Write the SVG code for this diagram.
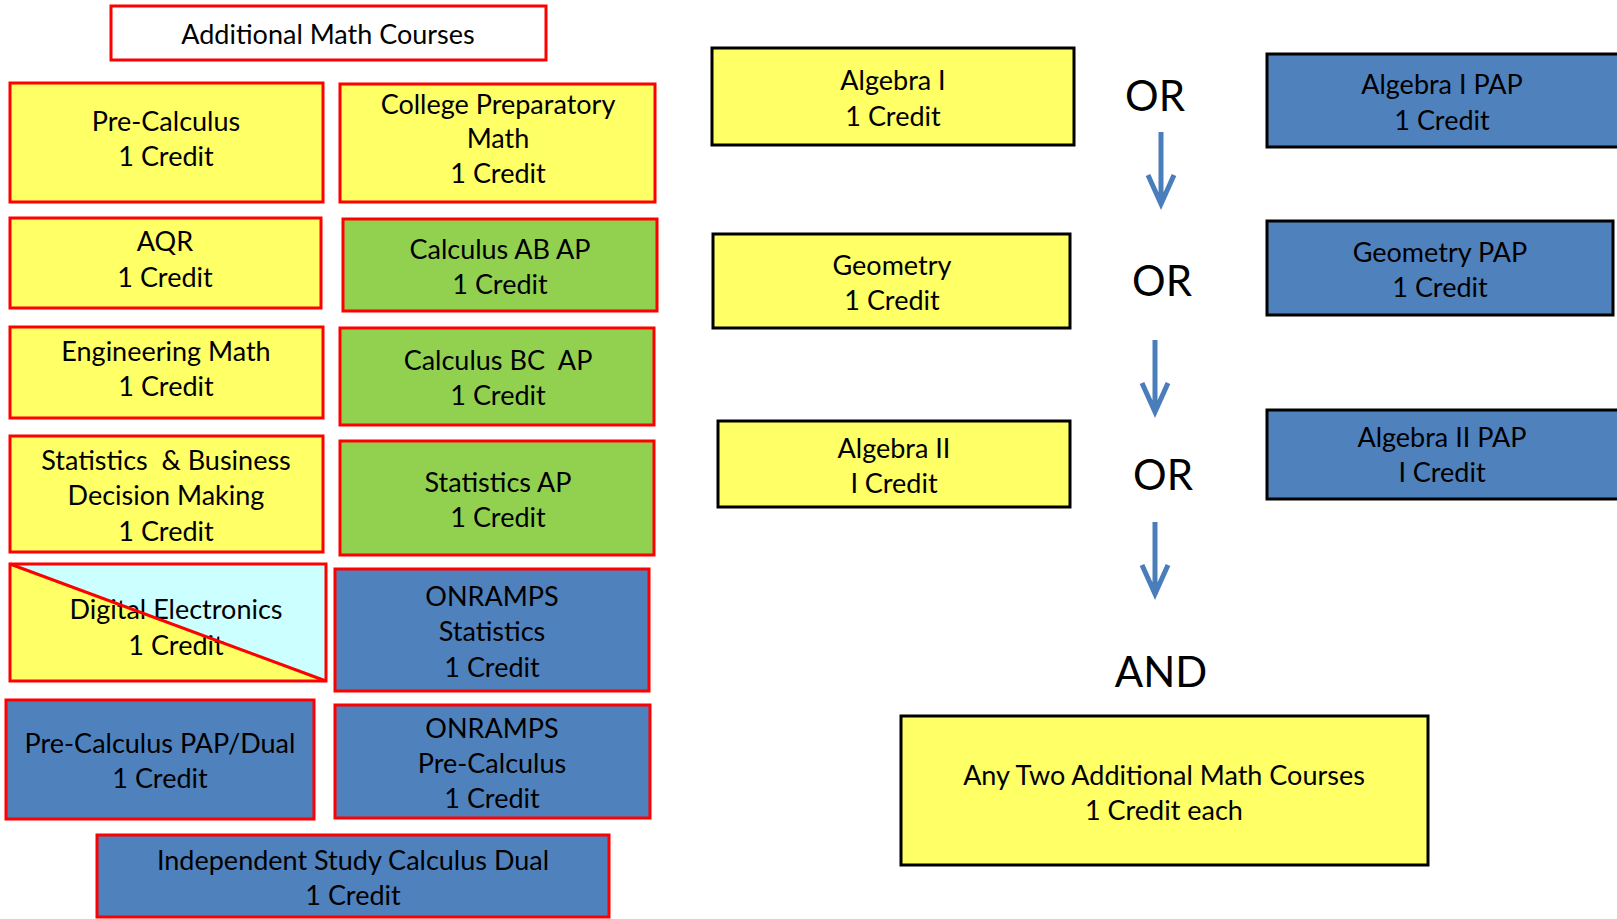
<svg xmlns="http://www.w3.org/2000/svg" width="1617" height="919" viewBox="0 0 1617 919">
<style>
.t{font-family:Lato,"Liberation Sans",sans-serif;font-size:27px;fill:#000;text-anchor:middle}
.big{font-family:Lato,"Liberation Sans",sans-serif;font-size:42px;fill:#000;text-anchor:middle}
.r{stroke:#FF0000;stroke-width:3}
.k{stroke:#000;stroke-width:3}
.y{fill:#FFFF66}
.g{fill:#92D050}
.b{fill:#4F81BD}
.w{fill:#FFFFFF}
.arr{stroke:#4A7EBB;stroke-width:5;fill:none}
</style>
<rect width="1617" height="919" fill="#FFFFFF"/>
<g transform="translate(0,1)">
<g id="title"><rect class="w r" x="111" y="5" width="435" height="54"/><text class="t" x="328" y="43">Additional Math Courses</text></g>
<g id="precalc"><rect class="y r" x="10" y="82" width="313" height="119"/><text class="t" x="166" y="130">Pre-Calculus</text><text class="t" x="166" y="165">1 Credit</text></g>
<g id="collegeprep"><rect class="y r" x="340" y="83" width="315" height="118"/><text class="t" x="498" y="113">College Preparatory</text><text class="t" x="498" y="147">Math</text><text class="t" x="498" y="182">1 Credit</text></g>
<g id="aqr"><rect class="y r" x="10" y="217" width="311" height="90"/><text class="t" x="165" y="250">AQR</text><text class="t" x="165" y="286">1 Credit</text></g>
<g id="calcab"><rect class="g r" x="343" y="218" width="314" height="92"/><text class="t" x="500" y="258">Calculus AB AP</text><text class="t" x="500" y="293">1 Credit</text></g>
<g id="engmath"><rect class="y r" x="10" y="326" width="313" height="91"/><text class="t" x="166" y="360">Engineering Math</text><text class="t" x="166" y="395">1 Credit</text></g>
<g id="calcbc"><rect class="g r" x="340" y="327" width="314" height="97"/><text class="t" x="498" y="369" xml:space="preserve">Calculus BC  AP</text><text class="t" x="498" y="404">1 Credit</text></g>
<g id="statsbiz"><rect class="y r" x="10" y="435" width="313" height="116"/><text class="t" x="166" y="469" xml:space="preserve">Statistics  &amp; Business</text><text class="t" x="166" y="504">Decision Making</text><text class="t" x="166" y="540">1 Credit</text></g>
<g id="statsap"><rect class="g r" x="340" y="440" width="314" height="114"/><text class="t" x="498" y="491">Statistics AP</text><text class="t" x="498" y="526">1 Credit</text></g>
<g id="digital"><polygon class="y" points="10,563 10,680 326,680"/><polygon fill="#CCFFFF" points="10,563 326,563 326,680"/><text class="t" x="176" y="618">Digital Electronics</text><text class="t" x="176" y="654">1 Credit</text><line x1="10" y1="563" x2="326" y2="680" stroke="#FF0000" stroke-width="3"/><rect class="r" fill="none" x="10" y="563" width="316" height="117"/></g>
<g id="onrampsstats"><rect class="b r" x="335" y="568" width="314" height="122"/><text class="t" x="492" y="605">ONRAMPS</text><text class="t" x="492" y="640">Statistics</text><text class="t" x="492" y="676">1 Credit</text></g>
<g id="precalcpap"><rect class="b r" x="6" y="699" width="308" height="119"/><text class="t" x="160" y="752">Pre-Calculus PAP/Dual</text><text class="t" x="160" y="787">1 Credit</text></g>
<g id="onrampsprecalc"><rect class="b r" x="335" y="704" width="315" height="113"/><text class="t" x="492" y="737">ONRAMPS</text><text class="t" x="492" y="772">Pre-Calculus</text><text class="t" x="492" y="807">1 Credit</text></g>
<g id="indstudy"><rect class="b r" x="97" y="834" width="512" height="82"/><text class="t" x="353" y="869">Independent Study Calculus Dual</text><text class="t" x="353" y="904">1 Credit</text></g>
<g id="alg1"><rect class="y k" x="712" y="47" width="362" height="97"/><text class="t" x="893" y="89">Algebra I</text><text class="t" x="893" y="125">1 Credit</text></g>
<g id="alg1pap"><rect class="b k" x="1267" y="53" width="352" height="93"/><text class="t" x="1442" y="93">Algebra I PAP</text><text class="t" x="1442" y="129">1 Credit</text></g>
<g id="geom"><rect class="y k" x="713" y="233" width="357" height="94"/><text class="t" x="892" y="274">Geometry</text><text class="t" x="892" y="309">1 Credit</text></g>
<g id="geompap"><rect class="b k" x="1267" y="220" width="346" height="94"/><text class="t" x="1440" y="261">Geometry PAP</text><text class="t" x="1440" y="296">1 Credit</text></g>
<g id="alg2"><rect class="y k" x="718" y="420" width="352" height="86"/><text class="t" x="894" y="457">Algebra II</text><text class="t" x="894" y="492">I Credit</text></g>
<g id="alg2pap"><rect class="b k" x="1267" y="409" width="352" height="89"/><text class="t" x="1442" y="446">Algebra II PAP</text><text class="t" x="1442" y="481">I Credit</text></g>
<g id="anytwo"><rect class="y k" x="901" y="715" width="527" height="149"/><text class="t" x="1164" y="784">Any Two Additional Math Courses</text><text class="t" x="1164" y="819">1 Credit each</text></g>
<g id="labels">
<text class="big" x="1155" y="110">OR</text>
<text class="big" x="1162" y="295">OR</text>
<text class="big" x="1163" y="489">OR</text>
<text class="big" x="1161" y="686">AND</text>
</g>
<g id="connectors">
<path class="arr" d="M1161 131V203M1148 174L1161 203L1174 174"/>
<path class="arr" d="M1155 339V411M1142 382L1155 411L1168 382"/>
<path class="arr" d="M1155 521V593M1142 564L1155 593L1168 564"/>
</g>
</g>
</svg>
